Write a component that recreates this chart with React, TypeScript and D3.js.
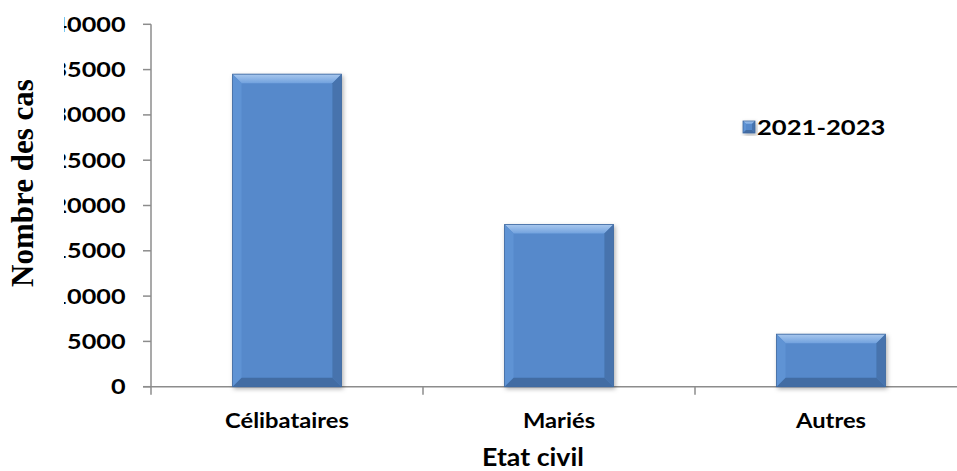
import React from "react";
import * as d3 from "d3";

const categories = ["Célibataires", "Mariés", "Autres"];
const values = [34500, 17900, 5800];
const yTicks = [0, 5000, 10000, 15000, 20000, 25000, 30000, 35000, 40000];
const seriesName = "2021-2023";
const yTitle = "Nombre des cas";
const xTitle = "Etat civil";

const W = 957;
const H = 471;
const left = 151;
const right = 967;
const top = 24.3;
const bottom = 386.7;

const FONT = "Lato, 'Open Sans', sans-serif";

function BevelRect({ x, y, w, h, b }: { x: number; y: number; w: number; h: number; b: number }) {
  const bb = Math.min(b, h / 2, w / 2);
  const x2 = x + w;
  const y2 = y + h;
  return (
    <g>
      <rect x={x} y={y} width={w} height={h} fill="#5689cb" />
      <polygon points={`${x},${y} ${x2},${y} ${x2 - bb},${y + bb} ${x + bb},${y + bb}`} fill="url(#topGrad)" />
      <polygon points={`${x},${y} ${x + bb},${y + bb} ${x + bb},${y2 - bb} ${x},${y2}`} fill="#5f93d4" />
      <polygon points={`${x2},${y} ${x2},${y2} ${x2 - bb},${y2 - bb} ${x2 - bb},${y + bb}`} fill="#4673ad" />
      <polygon points={`${x},${y2} ${x + bb},${y2 - bb} ${x2 - bb},${y2 - bb} ${x2},${y2}`} fill="#426ca3" />
      <rect x={x} y={y} width={w} height={h} fill="none" stroke="#3d679e" strokeWidth={0.8} />
    </g>
  );
}

function SText({ x, y, sx, size, anchor, children, dy }: { x: number; y: number; sx: number; size: number; anchor: string; children: React.ReactNode; dy?: string }) {
  return (
    <g transform={`translate(${x},${y}) scale(${sx},1)`}>
      <text x={0} y={0} dy={dy} textAnchor={anchor as any} fontFamily={FONT} fontWeight={700} fontSize={size} fill="#000">
        {children}
      </text>
    </g>
  );
}

export default function App() {
  const x = d3.scaleBand<string>().domain(categories).range([left, right]).paddingInner(0.6).paddingOuter(0.3);
  const y = d3.scaleLinear().domain([0, 40000]).range([bottom, top]);
  const step = x.step();
  const boundaries = d3.range(categories.length + 1).map((i) => left + i * step);

  return (
    <svg width={W} height={H} style={{ position: "absolute", left: 0, top: 0, background: "#fff" }}>
      <defs>
        <linearGradient id="topGrad" x1="0" y1="0" x2="0" y2="1">
          <stop offset="0" stopColor="#a9c8ee" />
          <stop offset="1" stopColor="#72a2de" />
        </linearGradient>
        <filter id="shadow" x="-20%" y="-20%" width="140%" height="140%">
          <feDropShadow dx="1.5" dy="2" stdDeviation="2" floodColor="#000" floodOpacity="0.3" />
        </filter>
        <clipPath id="tickClip">
          <rect x={64} y={0} width={200} height={H} />
        </clipPath>
      </defs>

      {/* y axis */}
      <line x1={left} x2={left} y1={top} y2={bottom} stroke="#8c8c8c" strokeWidth={1.5} />
      {yTicks.map((t) => (
        <line key={t} x1={left - 8} x2={left} y1={y(t)} y2={y(t)} stroke="#8c8c8c" strokeWidth={1.5} />
      ))}
      <g clipPath="url(#tickClip)">
        {yTicks.map((t) => (
          <SText key={t} x={125.5} y={y(t)} sx={1.2} size={21} anchor="end" dy="0.36em">
            {t}
          </SText>
        ))}
      </g>

      {/* x axis */}
      <line x1={left - 8} x2={W} y1={bottom} y2={bottom} stroke="#8c8c8c" strokeWidth={1.5} />
      {boundaries.map((b, i) => (
        <line key={i} x1={b} x2={b} y1={bottom} y2={bottom + 8} stroke="#8c8c8c" strokeWidth={1.5} />
      ))}

      {/* bars */}
      {categories.map((c, i) => (
        <g key={c} filter="url(#shadow)">
          <BevelRect x={x(c)!} y={y(values[i])} w={x.bandwidth()} h={bottom - y(values[i])} b={9} />
        </g>
      ))}

      {/* category labels */}
      {categories.map((c) => (
        <SText key={c} x={x(c)! + x.bandwidth() / 2} y={428} sx={1.13} size={21} anchor="middle">
          {c}
        </SText>
      ))}

      {/* axis titles */}
      <SText x={533} y={466} sx={1.07} size={25} anchor="middle">
        {xTitle}
      </SText>
      <text transform="translate(33,183) rotate(-90)" textAnchor="middle" fontFamily="'Liberation Serif', 'Times New Roman', serif" fontWeight={700} fontSize={31} fill="#000">
        {yTitle}
      </text>

      {/* legend */}
      <g filter="url(#shadow)">
        <BevelRect x={743} y={121} w={12} h={12} b={3} />
      </g>
      <SText x={757} y={127} sx={1.22} size={21} anchor="start" dy="0.36em">
        {seriesName}
      </SText>
    </svg>
  );
}
